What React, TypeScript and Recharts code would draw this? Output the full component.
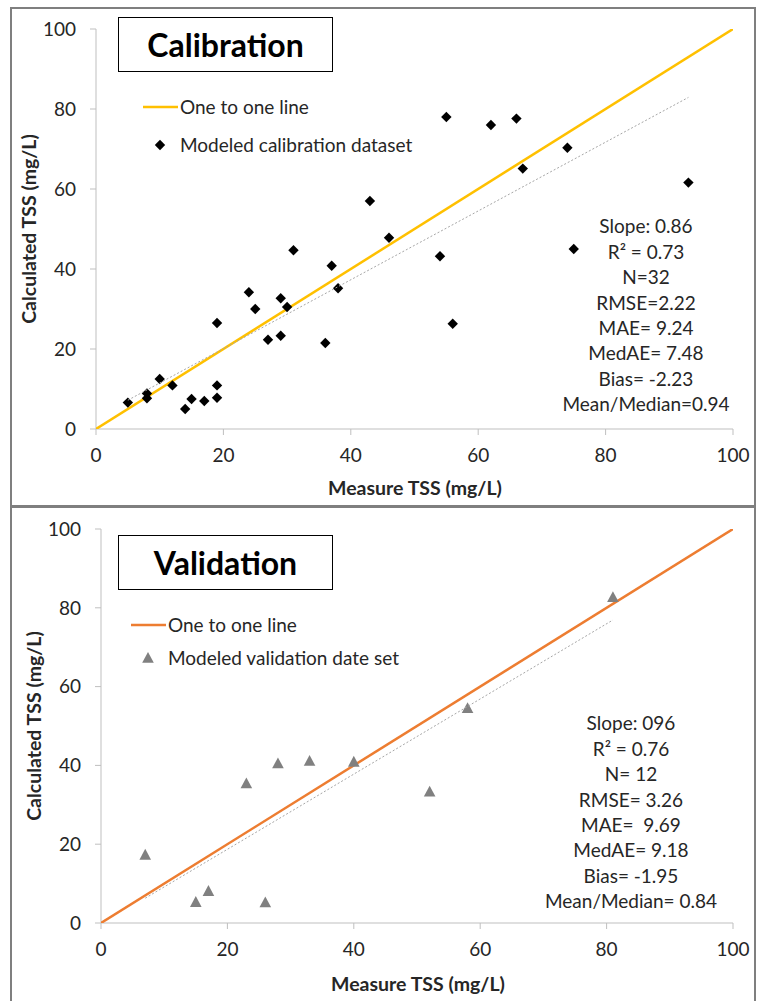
import React from 'react';
import { ScatterChart, Scatter, XAxis, YAxis } from 'recharts';

// Calibration dataset (measured vs calculated TSS, mg/L)
const calMeasured = [5, 8, 8, 10, 12, 14, 15, 17, 19, 19, 19, 24, 25, 27, 29, 29, 30, 31, 36, 37, 38, 43, 46, 54, 55, 56, 62, 66, 67, 74, 75, 93];
const calCalculated = [6.6, 8.9, 7.7, 12.5, 10.9, 5.0, 7.5, 7.0, 7.8, 10.9, 26.5, 34.2, 30.0, 22.3, 32.7, 23.3, 30.5, 44.7, 21.5, 40.8, 35.2, 57.0, 47.8, 43.2, 78.0, 26.3, 76.0, 77.6, 65.1, 70.3, 45.0, 61.6];

// Validation dataset
const valMeasured = [7, 15, 17, 23, 26, 28, 33, 40, 52, 58, 81];
const valCalculated = [17.3, 5.3, 8.1, 35.4, 5.2, 40.5, 41.1, 40.9, 33.3, 54.5, 82.7];

// 1:1 line and fitted trend line endpoints
const oneToOneX = [0, 100];
const oneToOneY = [0, 100];
const calTrendX = [5, 93];
const calTrendY = [7.2, 82.9];
const valTrendX = [7, 81];
const valTrendY = [6.3, 76.9];

const axisTicks = [0, 20, 40, 60, 80, 100];

const calStats = ['Slope: 0.86', 'R² = 0.73', 'N=32', 'RMSE=2.22', 'MAE= 9.24', 'MedAE= 7.48', 'Bias= -2.23', 'Mean/Median=0.94'];
const valStats = ['Slope: 096', 'R² = 0.76', 'N= 12', 'RMSE= 3.26', 'MAE=  9.69', 'MedAE= 9.18', 'Bias= -1.95', 'Mean/Median= 0.84'];

const FONT = 'Lato, "Open Sans", sans-serif';
const TEXT = '#262626';
const AXIS = '#bfbfbf';
const FS = 19;

const toPoints = (xs: number[], ys: number[]) => xs.map((x, i) => ({ x, y: ys[i] }));

const Diamond = (props: any) => {
  const { cx, cy } = props;
  const r = 5.2;
  return <path d={`M${cx},${cy - r}L${cx + r},${cy}L${cx},${cy + r}L${cx - r},${cy}Z`} fill="#000" />;
};

const Triangle = (props: any) => {
  const { cx, cy } = props;
  return <path d={`M${cx},${cy - 6}L${cx + 5.8},${cy + 4.8}L${cx - 5.8},${cy + 4.8}Z`} fill="#808080" />;
};

const NoDot = () => <g />;

interface PanelProps {
  top: number;
  height: number;
  plotLeft: number;
  plotTop: number;
  title: string;
  lineColor: string;
  points: { x: number; y: number }[];
  trend: { x: number; y: number }[];
  marker: 'diamond' | 'triangle';
  legendLine: { x: number; y: number };
  legendMarker: { x: number; y: number };
  legendText: string;
  titleBox: { left: number; top: number };
  stats: string[];
  statsCenter: { x: number; y: number };
  xLabel: { x: number; y: number };
  yLabel: { x: number; y: number };
}

function Panel(p: PanelProps) {
  const plotBottom = 78;
  const xAxisH = 30;
  return (
    <div style={{ position: 'absolute', left: 0, top: p.top, width: 759, height: p.height }}>
      <ScatterChart
        width={759}
        height={p.height}
        margin={{ top: p.plotTop, right: 26, bottom: plotBottom - xAxisH, left: 0 }}
      >
        <XAxis
          type="number"
          dataKey="x"
          domain={[0, 100]}
          ticks={axisTicks}
          height={xAxisH}
          stroke={AXIS}
          tickSize={6}
          tickMargin={14}
          tick={{ fill: TEXT, fontSize: FS, fontFamily: FONT }}
          allowDataOverflow
        />
        <YAxis
          type="number"
          dataKey="y"
          domain={[0, 100]}
          ticks={axisTicks}
          width={p.plotLeft}
          stroke={AXIS}
          tickSize={6}
          tickMargin={14}
          tick={{ fill: TEXT, fontSize: FS, fontFamily: FONT }}
          allowDataOverflow
        />
        <Scatter
          data={toPoints(oneToOneX, oneToOneY)}
          line={{ stroke: p.lineColor, strokeWidth: 2.5 }}
          shape={NoDot}
          isAnimationActive={false}
        />
        <Scatter
          data={p.points}
          shape={p.marker === 'diamond' ? Diamond : Triangle}
          isAnimationActive={false}
        />
        <Scatter
          data={p.trend}
          line={{ stroke: '#a6a6a6', strokeWidth: 1, strokeDasharray: '2 2' }}
          shape={NoDot}
          isAnimationActive={false}
        />
      </ScatterChart>

      {/* title box */}
      <div
        style={{
          position: 'absolute',
          left: p.titleBox.left,
          top: p.titleBox.top,
          width: 215,
          height: 55,
          border: '1.5px solid #000',
          boxSizing: 'border-box',
          background: '#fff',
          display: 'flex',
          alignItems: 'center',
          justifyContent: 'center',
          fontFamily: FONT,
          fontWeight: 700,
          fontSize: 32,
          color: '#000',
        }}
      >
        {p.title}
      </div>

      {/* legend */}
      <svg style={{ position: 'absolute', left: 0, top: 0, overflow: 'visible' }} width={1} height={1}>
        <line
          x1={p.legendLine.x}
          x2={p.legendLine.x + 35}
          y1={p.legendLine.y}
          y2={p.legendLine.y}
          stroke={p.lineColor}
          strokeWidth={2.5}
        />
        {p.marker === 'diamond' ? (
          <Diamond cx={p.legendMarker.x} cy={p.legendMarker.y} />
        ) : (
          <Triangle cx={p.legendMarker.x} cy={p.legendMarker.y} />
        )}
      </svg>
      <div style={{ position: 'absolute', left: p.legendLine.x + 37, top: p.legendLine.y - 12, fontFamily: FONT, fontSize: FS, color: TEXT, whiteSpace: 'nowrap', lineHeight: '24px' }}>
        One to one line
      </div>
      <div style={{ position: 'absolute', left: p.legendLine.x + 37, top: p.legendMarker.y - 12, fontFamily: FONT, fontSize: FS, color: TEXT, whiteSpace: 'nowrap', lineHeight: '24px' }}>
        {p.legendText}
      </div>

      {/* statistics */}
      <div
        style={{
          position: 'absolute',
          left: p.statsCenter.x,
          top: p.statsCenter.y - 12.7,
          transform: 'translateX(-50%)',
          textAlign: 'center',
          fontFamily: FONT,
          fontSize: FS,
          lineHeight: '25.4px',
          color: TEXT,
          whiteSpace: 'pre',
        }}
      >
        {p.stats.map((s) => (
          <div key={s}>{s}</div>
        ))}
      </div>

      {/* axis titles */}
      <div style={{ position: 'absolute', left: p.xLabel.x, top: p.xLabel.y, transform: 'translate(-50%,-50%)', fontFamily: FONT, fontWeight: 700, fontSize: 19.5, color: TEXT, whiteSpace: 'nowrap' }}>
        Measure TSS (mg/L)
      </div>
      <div style={{ position: 'absolute', left: p.yLabel.x, top: p.yLabel.y, transform: 'translate(-50%,-50%) rotate(-90deg)', fontFamily: FONT, fontWeight: 700, fontSize: 19.5, color: TEXT, whiteSpace: 'nowrap' }}>
        Calculated TSS (mg/L)
      </div>
    </div>
  );
}

export default function App() {
  return (
    <div style={{ position: 'absolute', left: 0, top: 0, width: 759, height: 1001, background: '#fff', overflow: 'hidden' }}>
      <Panel
        top={0}
        height={507}
        plotLeft={96}
        plotTop={29}
        title="Calibration"
        lineColor="#FFC000"
        points={toPoints(calMeasured, calCalculated)}
        trend={toPoints(calTrendX, calTrendY)}
        marker="diamond"
        legendLine={{ x: 143, y: 107 }}
        legendMarker={{ x: 160, y: 145 }}
        legendText="Modeled calibration dataset"
        titleBox={{ left: 118, top: 17 }}
        stats={calStats}
        statsCenter={{ x: 646, y: 226 }}
        xLabel={{ x: 415, y: 487 }}
        yLabel={{ x: 28, y: 229 }}
      />
      <Panel
        top={507}
        height={494}
        plotLeft={101}
        plotTop={22}
        title="Validation"
        lineColor="#ED7D31"
        points={toPoints(valMeasured, valCalculated)}
        trend={toPoints(valTrendX, valTrendY)}
        marker="triangle"
        legendLine={{ x: 131, y: 118 }}
        legendMarker={{ x: 148, y: 151 }}
        legendText="Modeled validation date set"
        titleBox={{ left: 118, top: 28 }}
        stats={valStats}
        statsCenter={{ x: 631, y: 216 }}
        xLabel={{ x: 418, y: 476 }}
        yLabel={{ x: 33, y: 219 }}
      />
      {/* panel frames */}
      <div style={{ position: 'absolute', left: 10, top: 7, width: 746, height: 500, border: '2px solid #7f7f7f', boxSizing: 'border-box', pointerEvents: 'none' }} />
      <div style={{ position: 'absolute', left: 10, top: 506, width: 746, height: 500, border: '2px solid #7f7f7f', boxSizing: 'border-box', pointerEvents: 'none' }} />
    </div>
  );
}
